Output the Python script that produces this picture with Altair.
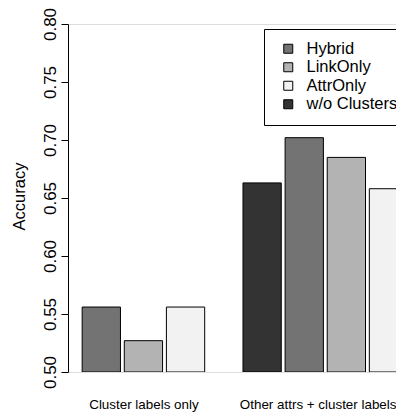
import altair as alt
import pandas as pd

groups = ["Cluster labels only", "Other attrs + cluster labels"]
methods = ["Hybrid", "LinkOnly", "AttrOnly", "w/o Clusters"]
colors = ["#737373", "#b3b3b3", "#f2f2f2", "#333333"]

g1_methods = ["Hybrid", "LinkOnly", "AttrOnly"]
g1_values = [0.556, 0.527, 0.556]
g2_methods = ["w/o Clusters", "Hybrid", "LinkOnly", "AttrOnly"]
g2_values = [0.663, 0.702, 0.685, 0.658]

y_ticks = [0.50, 0.55, 0.60, 0.65, 0.70, 0.75, 0.80]

# R barplot style layout: bar width 1, small gap inside group, 1 bar gap between groups
bar_w, inner, outer = 1.0, 0.1, 1.0
rows, centers = [], []
pos = 0.0
for g, ms, vs in zip(groups, [g1_methods, g2_methods], [g1_values, g2_values]):
    pos += outer
    start = pos
    for i, (m, v) in enumerate(zip(ms, vs)):
        if i > 0:
            pos += inner
        rows.append(dict(group=g, method=m, value=v, x0=pos, x1=pos + bar_w))
        pos += bar_w
    centers.append((start + pos) / 2)

df = pd.DataFrame(rows)
# keep the last group label inside the visible area
label_pos = [centers[0], centers[1] - 0.2]
mid = (label_pos[0] + label_pos[1]) / 2
label_expr = f"datum.value < {mid} ? '{groups[0]}' : '{groups[1]}'"

FONT = "Liberation Sans"
W = 328
H = 348
x_lo = 0.63
x_hi = x_lo + W / 38.29

chart = alt.Chart(df).mark_bar(stroke="black", strokeWidth=1, clip=True).encode(
    x=alt.X(
        "x0:Q",
        scale=alt.Scale(domain=[x_lo, x_hi], nice=False, zero=False),
        axis=alt.Axis(
            values=label_pos, labelExpr=label_expr, ticks=False, tickSize=0,
            domain=False, grid=False, title=None, labelFontSize=13.4,
            labelPadding=36, labelBaseline="alphabetic", labelFlush=False,
            labelOverlap=False, labelColor="black", labelFont=FONT,
        ),
    ),
    x2="x1:Q",
    y=alt.Y(
        "value:Q",
        scale=alt.Scale(domain=[0.5, 0.8], nice=False, zero=False),
        axis=alt.Axis(
            values=y_ticks, format=".2f", tickSize=7, tickColor="black",
            domainColor="black", labelAngle=270, labelAlign="center",
            labelBaseline="alphabetic", labelPadding=6, labelFontSize=17,
            labelColor="black", labelFont=FONT, labelFlush=False, grid=False,
            title="Accuracy", titleFontSize=16.5, titleFontWeight="normal",
            titleColor="black", titleFont=FONT, titleAngle=270,
            titleBaseline="alphabetic", titleAlign="center",
            titleX=-43.2, titleY=H / 2 - 2,
        ),
    ),
    y2=alt.datum(0.5),
    color=alt.Color(
        "method:N",
        scale=alt.Scale(domain=methods, range=colors),
        legend=alt.Legend(
            orient="none", legendX=196, legendY=5, title=None,
            symbolType="square", symbolSize=81, symbolStrokeColor="black",
            symbolStrokeWidth=1, symbolOpacity=1, labelFontSize=16.5,
            labelFont=FONT, labelColor="black", padding=11.5, rowPadding=1.5,
            symbolOffset=4.5, labelOffset=10, strokeColor="black",
            fillColor="white", cornerRadius=0,
        ),
    ),
).properties(
    width=W,
    height=H,
    autosize=alt.AutoSizeParams(type="none"),
    padding={"left": 60, "top": 16, "right": 0, "bottom": 44},
).configure_view(stroke=None).configure(font=FONT)

chart.save("out.html", embed_options={"renderer": "svg", "actions": False})
